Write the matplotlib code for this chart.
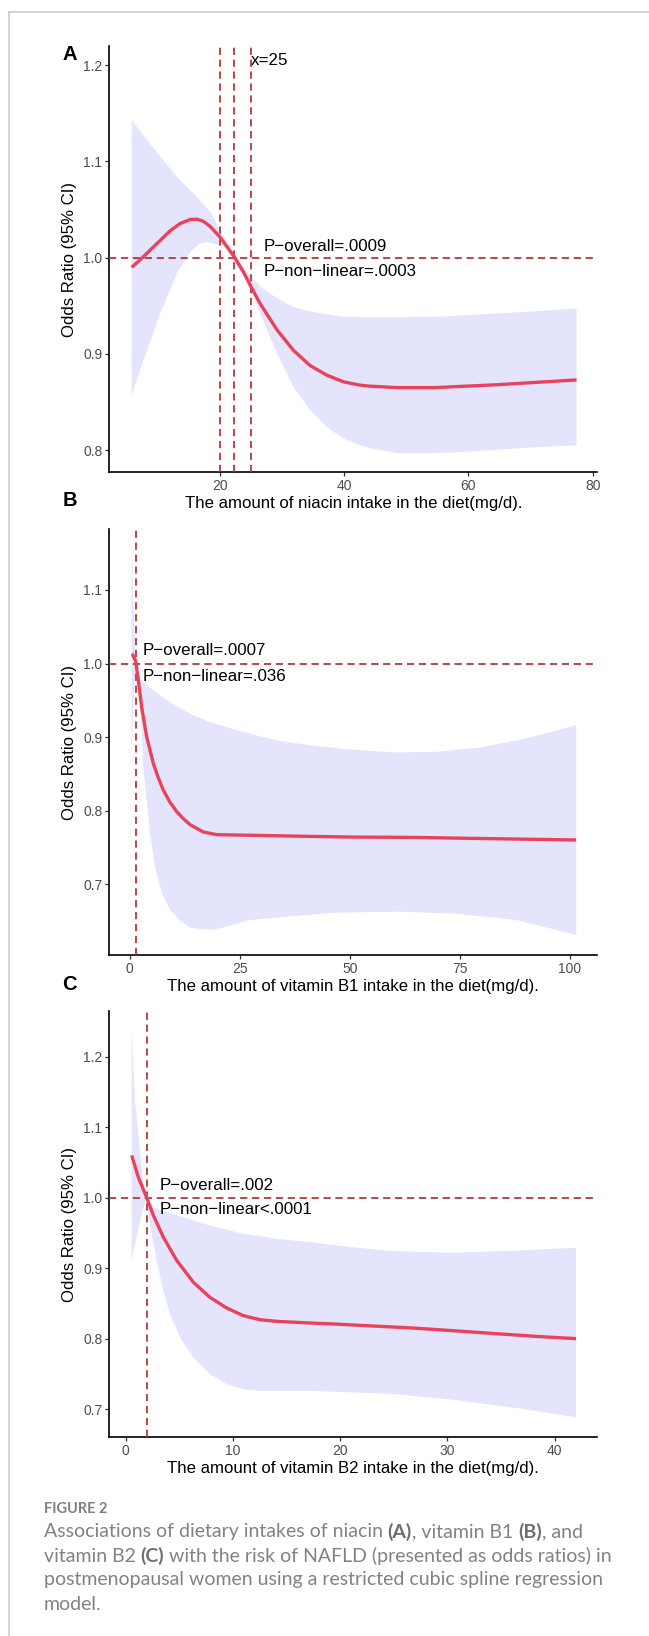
import matplotlib.pyplot as plt
from matplotlib.lines import Line2D
import numpy as np

plt.rcParams['font.family'] = ['Liberation Sans', 'DejaVu Sans']

W, H = 649, 1636

# ---- panel A: niacin ----
a_x = [5.8, 7.2, 8.8, 10.4, 12.0, 13.6, 15.2, 16.3, 17.3, 18.4, 20.0, 22.3, 23.8, 25.0, 26.5, 29.2, 31.8,
       34.5, 37.2, 39.9, 42.6, 44.2, 48.6, 54.6, 64.6, 77.4]
a_y = [0.990, 0.998, 1.008, 1.018, 1.028, 1.0355, 1.0397, 1.040, 1.038, 1.0327, 1.0216, 1.001, 0.985, 0.970,
       0.952, 0.925, 0.904, 0.888, 0.878, 0.871, 0.8675, 0.8665, 0.865, 0.865, 0.868, 0.873]
a_up_x = [5.8, 7.7, 10.4, 13.1, 15.7, 17.3, 18.4, 20.0, 22.3, 25.0, 26.5, 29.2, 31.8, 34.5, 39.9, 44.2,
          48.6, 56.0, 64.6, 77.4]
a_up_y = [1.143, 1.127, 1.105, 1.084, 1.067, 1.056, 1.048, 1.029, 1.004, 0.980, 0.970, 0.958, 0.949, 0.944,
          0.9385, 0.938, 0.938, 0.939, 0.942, 0.947]
a_lo_x = [5.8, 7.7, 10.4, 13.1, 15.2, 16.8, 17.9, 19.5, 21.1, 22.3, 23.8, 25.0, 26.5, 29.2, 31.8, 34.5,
          37.2, 39.9, 42.6, 44.2, 48.6, 53.5, 58.9, 67.9, 77.4]
a_lo_y = [0.857, 0.8935, 0.942, 0.984, 1.006, 1.015, 1.016, 1.014, 1.0096, 0.997, 0.982, 0.966, 0.942,
          0.9005, 0.866, 0.842, 0.824, 0.812, 0.805, 0.802, 0.797, 0.797, 0.798, 0.802, 0.805]
a_vlines = [20, 22.3, 25]
a_xticks = [20, 40, 60, 80]
a_yticks = [0.8, 0.9, 1.0, 1.1, 1.2]

# ---- panel B: vitamin B1 ----
b_x = [0.5, 0.7, 1.38, 2.0, 2.75, 3.9, 5.4, 6.5, 7.65, 9.1, 10.7, 12.2, 13.7, 16.7, 19.8, 29.6, 41.0,
       50.0, 64.6, 80.0, 101.4]
b_y = [1.013, 1.012, 1.0036, 0.977, 0.9405, 0.900, 0.864, 0.845, 0.828, 0.812, 0.7986, 0.789, 0.781,
       0.771, 0.7672, 0.7662, 0.7649, 0.764, 0.7635, 0.762, 0.760]
b_up_x = [0.47, 0.7, 0.95, 1.2, 1.61, 2.36, 4.63, 6.9, 10.7, 14.5, 18.3, 25.8, 33.4, 41.0, 50.0, 60.8,
          70.0, 80.0, 90.0, 101.4]
b_up_y = [1.159, 1.12, 1.07, 1.035, 1.0, 0.979, 0.9676, 0.9564, 0.9415, 0.9293, 0.9203, 0.9068, 0.8955,
          0.8888, 0.883, 0.879, 0.880, 0.886, 0.898, 0.916]
b_lo_x = [0.47, 0.9, 1.38, 2.0, 2.36, 2.75, 3.11, 3.88, 4.63, 5.77, 7.29, 9.17, 11.44, 13.7, 16.0, 19.5,
          27.0, 45.8, 60.8, 74.0, 88.0, 101.4]
b_lo_y = [0.88, 0.95, 1.0, 0.97, 0.9496, 0.9046, 0.8595, 0.8145, 0.7695, 0.7243, 0.6884, 0.6658, 0.650,
          0.641, 0.6388, 0.638, 0.651, 0.661, 0.6625, 0.660, 0.651, 0.631]
b_vlines = [1.41]
b_xticks = [0, 25, 50, 75, 100]
b_yticks = [0.7, 0.8, 0.9, 1.0, 1.1]

# ---- panel C: vitamin B2 ----
c_x = [0.55, 1.17, 1.95, 2.57, 3.5, 4.75, 6.3, 7.85, 9.41, 10.96, 12.52, 14.08, 17.18, 19.15, 23.0,
       26.9, 30.8, 34.6, 38.5, 42.0]
c_y = [1.060, 1.029, 1.000, 0.975, 0.944, 0.911, 0.880, 0.8586, 0.8435, 0.8326, 0.8269, 0.8245, 0.8222,
       0.821, 0.818, 0.815, 0.811, 0.807, 0.803, 0.800]
c_up_x = [0.54, 0.86, 1.32, 1.63, 1.95, 2.57, 4.75, 7.85, 10.96, 14.08, 17.18, 21.0, 25.0, 30.7, 36.5, 42.0]
c_up_y = [1.238, 1.138, 1.067, 1.02, 1.002, 0.9866, 0.975, 0.9606, 0.9488, 0.9417, 0.937, 0.930, 0.924,
          0.922, 0.925, 0.929]
c_lo_x = [0.54, 1.01, 1.48, 1.89, 2.41, 2.88, 3.5, 4.12, 5.06, 6.3, 7.85, 9.41, 10.96, 12.52, 17.18,
          24.9, 30.7, 36.5, 42.0]
c_lo_y = [0.911, 0.944, 0.977, 0.996, 0.949, 0.911, 0.868, 0.835, 0.8017, 0.773, 0.7496, 0.7354, 0.7283,
          0.7259, 0.7259, 0.7217, 0.713, 0.7014, 0.6886]
c_vlines = [1.95]
c_xticks = [0, 10, 20, 30, 40]
c_yticks = [0.7, 0.8, 0.9, 1.0, 1.1, 1.2]

CURVE = '#E8435A'
BAND = '#E4E4FC'
DASH = '#B5383C'

panels = [
    dict(label='A', top=46, bottom=472.3, xlim=(2.2, 80.74), ylim=(0.777, 1.22),
         x=a_x, y=a_y, ux=a_up_x, uy=a_up_y, lx=a_lo_x, ly=a_lo_y, vlines=a_vlines,
         xticks=a_xticks, yticks=a_yticks,
         xlabel='The amount of niacin intake in the diet(mg/d).',
         notes=[(25, 1.205, 'x=25'), (27.1, 1.012, 'P\u2212overall=.0009'),
                (27.1, 0.986, 'P\u2212non\u2212linear=.0003')]),
    dict(label='B', top=529.3, bottom=954.7, xlim=(-4.6, 106.2), ylim=(0.604, 1.1825),
         x=b_x, y=b_y, ux=b_up_x, uy=b_up_y, lx=b_lo_x, ly=b_lo_y, vlines=b_vlines,
         xticks=b_xticks, yticks=b_yticks,
         xlabel='The amount of vitamin B1 intake in the diet(mg/d).',
         notes=[(3.0, 1.0175, 'P\u2212overall=.0007'), (3.0, 0.983, 'P\u2212non\u2212linear=.036')]),
    dict(label='C', top=1010.7, bottom=1437.3, xlim=(-1.54, 43.98), ylim=(0.660, 1.2654),
         x=c_x, y=c_y, ux=c_up_x, uy=c_up_y, lx=c_lo_x, ly=c_lo_y, vlines=c_vlines,
         xticks=c_xticks, yticks=c_yticks,
         xlabel='The amount of vitamin B2 intake in the diet(mg/d).',
         notes=[(3.13, 1.017, 'P\u2212overall=.002'), (3.13, 0.983, 'P\u2212non\u2212linear<.0001')]),
]

fig = plt.figure(figsize=(W / 100, H / 100), dpi=100)
left, right = 109.3, 597.3

for p in panels:
    ax = fig.add_axes([left / W, 1 - p['bottom'] / H, (right - left) / W, (p['bottom'] - p['top']) / H])
    # confidence band
    ax.fill(np.concatenate([p['ux'], p['lx'][::-1]]), np.concatenate([p['uy'], p['ly'][::-1]]),
            color=BAND, lw=0, zorder=1)
    ax.plot(p['x'], p['y'], color=CURVE, lw=2.4, zorder=4, solid_capstyle='butt',
            solid_joinstyle='round')
    ax.axhline(1.0, color=DASH, lw=1.3, ls=(0, (4, 2.6)), zorder=3)
    for v in p['vlines']:
        ax.axvline(v, color=DASH, lw=1.3, ls=(0, (4, 2.6)), zorder=3)
    for nx, ny, s in p['notes']:
        ax.text(nx, ny, s, ha='left', va='center', fontsize=12.2, color='black', zorder=5)

    ax.set_xlim(*p['xlim'])
    ax.set_ylim(*p['ylim'])
    ax.set_xticks(p['xticks'])
    ax.set_yticks(p['yticks'])
    ax.set_yticklabels([f'{t:.1f}' for t in p['yticks']])
    for side in ['top', 'right']:
        ax.spines[side].set_visible(False)
    for side in ['left', 'bottom']:
        ax.spines[side].set_linewidth(1.2)
        ax.spines[side].set_color('black')
    ax.tick_params(direction='out', length=3, width=0.9, color='#333333',
                   labelcolor='#4D4D4D', labelsize=10, pad=2)
    h = p['bottom'] - p['top']
    ax.set_xlabel(p['xlabel'], fontsize=12.1, va='center')
    ax.xaxis.set_label_coords(0.5, -31.5 / h)
    ax.set_ylabel('Odds Ratio (95% CI)', fontsize=12.1, va='center')
    ax.yaxis.set_label_coords((69.5 - left) / (right - left), 0.5)

    label_y = {'A': 55, 'B': 500, 'C': 985}[p['label']]
    fig.text(69.5 / W, 1 - label_y / H, p['label'], ha='center', va='center',
             fontsize=14.5, fontweight='bold')

# outer frame (only top and left edges are visible in the crop)
fig.add_artist(Line2D([9 / W, 1.0], [1 - 11.6 / H, 1 - 11.6 / H], color='#C8C8C8', lw=1.1))
fig.add_artist(Line2D([9 / W, 9 / W], [0, 1 - 11.6 / H], color='#C8C8C8', lw=1.1))

# caption
cap_font = ['Lato', 'DejaVu Sans']
fig.text(43.5 / W, 1 - 1509 / H, 'FIGURE 2', ha='left', va='center', fontsize=10.5,
         color='#808080', family=cap_font, fontweight='bold')

caption_lines = [
    [('Associations of dietary intakes of niacin ', False), ('(A)', True), (', vitamin B1 ', False),
     ('(B)', True), (', and', False)],
    [('vitamin B2 ', False), ('(C)', True), (' with the risk of NAFLD (presented as odds ratios) in', False)],
    [('postmenopausal women using a restricted cubic spline regression', False)],
    [('model.', False)],
]
caption_y = [1532, 1556, 1580, 1604]

renderer = fig.canvas.get_renderer()
for parts, cy in zip(caption_lines, caption_y):
    cx = 43.5
    for s, bold in parts:
        t = fig.text(cx / W, 1 - cy / H, s, ha='left', va='center', fontsize=14,
                     family=cap_font, color='#6E6E6E' if bold else '#828282',
                     fontweight='bold' if bold else 'normal')
        cx += t.get_window_extent(renderer=renderer).width

fig.savefig('out.png', dpi=100)
